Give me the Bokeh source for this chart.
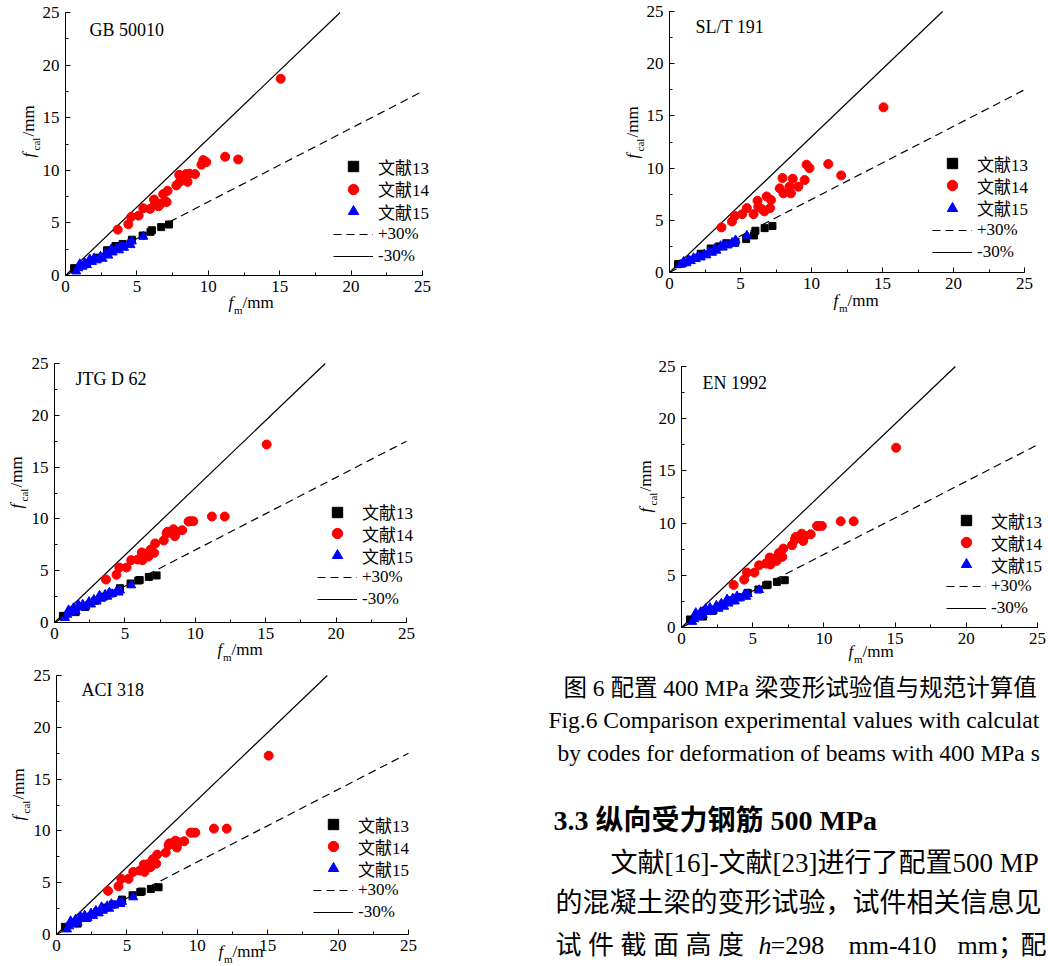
import math
from bokeh.plotting import figure
from bokeh.layouts import row, column
from bokeh.models import Legend, LegendItem, Label, SingleIntervalTicker, Range1d
from bokeh.embed import file_html
from bokeh.resources import INLINE

# ------------------------------------------------------------------ data
codes = ["GB 50010", "SL/T 191", "JTG D 62", "EN 1992", "ACI 318"]
series_names = ["文献13", "文献14", "文献15"]
band_names = ["+30%", "-30%"]
band_factors = [0.7, 1.3]
axis_range = [0, 25]
tick_step = 5

# measured deflections f_m (mm), same specimens in every panel
x13 = [0.6, 1.5, 2.2, 2.9, 3.5, 4.0, 4.65, 5.4, 5.95, 6.05, 6.7, 7.25]
x14 = [3.66, 4.4, 4.6, 5.12, 5.45, 5.92, 6.2, 6.25, 6.52, 6.68, 6.84, 7.08, 7.15,
       7.76, 7.96, 8.02, 8.45, 8.55, 8.68, 9.07, 9.52, 9.65, 9.86, 11.18, 12.09, 15.07]
x15 = [0.75, 0.9, 1.0, 1.2, 1.35, 1.5, 1.7, 1.85, 2.0, 2.2, 2.45, 2.6, 2.8, 3.0,
       3.2, 3.3, 3.6, 3.75, 3.9, 4.1, 4.4, 4.55, 4.65, 5.45]

# calculated deflections f_cal (mm) per code
gb_y13 = [0.7, 1.1, 1.7, 2.4, 2.8, 3.0, 3.4, 3.8, 4.15, 4.3, 4.6, 4.85]
gb_y14 = [4.36, 4.87, 5.57, 5.69, 6.39, 6.33, 7.22, 6.71, 6.58, 6.84, 7.73, 6.99, 8.05,
          8.56, 9.57, 8.94, 9.65, 8.9, 9.68, 9.64, 10.53, 10.97, 10.78, 11.29, 11.03, 18.7]
gb_y15 = [0.4, 0.7, 1.1, 0.85, 1.2, 1.0, 1.55, 1.3, 1.65, 1.45, 1.8, 1.6, 2.1, 1.9,
          2.5, 2.2, 2.6, 2.4, 2.8, 2.65, 3.0, 2.9, 3.25, 3.7]

sl_y13 = [0.8, 1.2, 1.8, 2.3, 2.5, 2.8, 2.95, 3.2, 3.55, 4.0, 4.25, 4.45]
sl_y14 = [4.32, 4.89, 5.43, 5.59, 6.17, 5.59, 6.87, 6.3, 6.07, 5.85, 7.29, 6.17, 6.94,
          8.06, 9.05, 7.58, 8.22, 7.58, 8.98, 8.22, 8.86, 10.33, 10.0, 10.39, 9.3, 15.82]
sl_y15 = [0.75, 0.8, 1.05, 0.9, 1.2, 1.1, 1.4, 1.3, 1.55, 1.45, 1.75, 1.65, 2.0, 1.9,
          2.3, 2.1, 2.55, 2.4, 2.7, 2.6, 2.85, 2.75, 3.1, 3.55]

jtg_y13 = [0.64, 1.0, 1.5, 2.1, 2.5, 2.8, 3.31, 3.76, 4.05, 4.1, 4.4, 4.54]
jtg_y14 = [4.15, 4.6, 5.31, 5.31, 6.02, 6.08, 6.76, 6.02, 6.63, 6.37, 7.05, 6.72, 7.63,
           7.92, 8.59, 8.75, 9.0, 8.33, 8.75, 8.91, 9.75, 9.78, 9.78, 10.23, 10.23, 17.18]
jtg_y15 = [0.45, 0.75, 1.2, 0.95, 1.4, 1.1, 1.7, 1.45, 1.75, 1.55, 2.0, 1.75, 2.2, 2.05,
           2.6, 2.3, 2.7, 2.5, 2.9, 2.75, 3.0, 2.9, 3.1, 3.6]

en_y13 = [0.77, 1.05, 1.6, 2.2, 2.6, 2.9, 3.32, 3.64, 4.05, 4.1, 4.37, 4.53]
en_y14 = [4.08, 4.59, 5.26, 5.26, 5.96, 6.12, 6.7, 6.03, 6.6, 6.38, 7.14, 6.76, 7.56,
          7.88, 8.42, 8.67, 8.99, 8.29, 8.77, 8.93, 9.73, 9.73, 9.73, 10.17, 10.17, 17.22]
en_y15 = [0.55, 0.8, 1.4, 1.0, 1.5, 1.2, 1.8, 1.5, 1.9, 1.6, 2.1, 1.8, 2.3, 2.0,
          2.7, 2.3, 2.8, 2.5, 3.0, 2.8, 3.1, 2.95, 3.2, 3.6]

aci_y13 = [0.74, 1.05, 1.6, 2.2, 2.6, 2.9, 3.37, 3.79, 4.1, 4.15, 4.4, 4.56]
aci_y14 = [4.21, 4.66, 5.37, 5.37, 6.04, 6.17, 6.75, 6.04, 6.8, 6.5, 7.26, 6.84, 7.71,
           7.9, 8.61, 8.8, 9.06, 8.39, 8.9, 9.0, 9.83, 9.83, 9.83, 10.22, 10.22, 17.26]
aci_y15 = [0.5, 0.8, 1.3, 1.0, 1.45, 1.15, 1.75, 1.5, 1.85, 1.6, 2.05, 1.8, 2.3, 2.05,
           2.65, 2.3, 2.75, 2.5, 2.95, 2.8, 3.05, 2.95, 3.15, 3.6]

panel_values = {
    "GB 50010": (gb_y13, gb_y14, gb_y15),
    "SL/T 191": (sl_y13, sl_y14, sl_y15),
    "JTG D 62": (jtg_y13, jtg_y14, jtg_y15),
    "EN 1992": (en_y13, en_y14, en_y15),
    "ACI 318": (aci_y13, aci_y14, aci_y15),
}

# ------------------------------------------------------------------ style / geometry (page pixels)
SERIF = "Liberation Serif"
MIX = "'Liberation Serif', 'Noto Sans CJK SC'"

# canvas = (left, top, width, height); box = axes box (left, top, right, bottom)
# legend = (left, centre of first row, row pitch)
geom = {
    "GB 50010": dict(canvas=(0, 0, 600, 330), box=(65, 12, 422, 275),
                     title=(89, 29), legend=(333, 166, 22.5), ylab=(28, 157), xlab=(228, 302)),
    "SL/T 191": dict(canvas=(600, 0, 446, 330), box=(669, 11, 1024, 272),
                     title=(695, 26), legend=(932, 163, 22.3), ylab=(632, 158), xlab=(833, 300)),
    "JTG D 62": dict(canvas=(0, 330, 600, 335), box=(54, 363, 406, 622),
                     title=(75, 378), legend=(317, 511.5, 21.9), ylab=(16, 508), xlab=(217, 649)),
    "EN 1992": dict(canvas=(600, 330, 446, 335), box=(681, 366, 1037, 627),
                    title=(702, 382), legend=(946, 520, 22.1), ylab=(645, 512), xlab=(848, 651)),
    "ACI 318": dict(canvas=(0, 665, 540, 300), box=(56, 675, 408, 934),
                    title=(81, 689), legend=(313, 824, 22), ylab=(18, 820), xlab=(218, 951)),
}
ROW_H = 26           # legend row box height (fits the CJK label text)


def screen_label(p, origin, px, py, text, size, font=SERIF, style="normal", angle=0.0,
                 align="left", baseline="middle"):
    """place a text at page pixel (px, py) inside figure p whose canvas is `origin`"""
    X0, Y0, W, H = origin
    p.add_layout(Label(x=px - X0, y=Y0 + H - py, x_units="screen", y_units="screen",
                       text=text, text_font=font, text_font_size=f"{size}px",
                       text_font_style=style, text_color="black", angle=angle,
                       text_align=align, text_baseline=baseline))


def legend_row(label, renderer, loc):
    return Legend(items=[LegendItem(label=label, renderers=[renderer])], location=loc,
                  padding=0, margin=0, spacing=0,
                  glyph_width=40, glyph_height=ROW_H, label_height=ROW_H, label_standoff=5,
                  label_text_font=MIX, label_text_font_size="17px",
                  label_text_color="black", border_line_alpha=0, background_fill_alpha=0)


def make_panel(code):
    g = geom[code]
    X0, Y0, W, H = g["canvas"]
    L, T, R, B = g["box"]
    span = axis_range[1] - axis_range[0]
    ppx = (R - L) / span
    ppy = (B - T) / span
    x_rng = Range1d(axis_range[0] - (L - X0) / ppx, axis_range[1] + (X0 + W - R) / ppx)
    y_rng = Range1d(axis_range[0] - (Y0 + H - B) / ppy, axis_range[1] + (T - Y0) / ppy)

    y13, y14, y15 = panel_values[code]
    p = figure(width=W, height=H, x_range=x_rng, y_range=y_rng,
               output_backend="svg", toolbar_location=None, min_border=0)
    p.outline_line_color = None
    p.grid.visible = False
    p.background_fill_color = "white"
    p.border_fill_color = "white"
    for ax in (p.xaxis[0], p.yaxis[0]):
        ax.fixed_location = 0
        ax.bounds = tuple(axis_range)
        ax.ticker = SingleIntervalTicker(interval=tick_step, num_minor_ticks=2)
        ax.major_tick_in = 5
        ax.major_tick_out = 0
        ax.minor_tick_in = 3
        ax.minor_tick_out = 0
        ax.axis_line_color = "black"
        ax.major_tick_line_color = "black"
        ax.minor_tick_line_color = "black"
        ax.major_label_text_font = SERIF
        ax.major_label_text_font_size = "17px"
        ax.major_label_text_color = "black"
    p.xaxis.major_label_standoff = 5
    p.yaxis.major_label_standoff = 6

    # +/-30 % reference lines, limited to the axes box
    lines = []
    for f in band_factors:
        xe = min(axis_range[1], axis_range[1] / f)
        lines.append(([axis_range[0], xe], [f * axis_range[0], f * xe]))
    r_plus = p.line(*lines[0], line_color="black", line_width=1.2, line_dash="8 5")
    r_minus = p.line(*lines[1], line_color="black", line_width=1.2)

    r13 = p.scatter(x13, y13, marker="square", size=7, color="black")
    r14 = p.scatter(x14, y14, marker="circle", size=9, color="#ff0000")
    r15 = p.scatter(x15, y15, marker="triangle", size=9, color="#0000ff")

    lx, first, pitch = g["legend"]
    entries = list(zip(series_names + band_names, [r13, r14, r15, r_plus, r_minus]))
    for i, (lab, rend) in enumerate(entries):
        bottom = first + i * pitch + ROW_H / 2
        p.add_layout(legend_row(lab, rend, (lx - X0, Y0 + H - bottom)))

    o = g["canvas"]
    # panel title
    tx, ty = g["title"]
    screen_label(p, o, tx, ty, code, 18)

    # x axis label  f_m/mm
    xf, yc = g["xlab"]
    screen_label(p, o, xf, yc, "f", 17, style="italic")
    screen_label(p, o, xf + 5.5, yc + 7, "m", 11)
    screen_label(p, o, xf + 14, yc, "/mm", 17)

    # y axis label  f_cal/mm (rotated)
    xc, yb = g["ylab"]
    a = math.pi / 2
    screen_label(p, o, xc, yb, "f", 17, style="italic", angle=a)
    screen_label(p, o, xc + 7, yb - 7, "cal", 11, angle=a)
    screen_label(p, o, xc, yb - 21, "/mm", 17, angle=a)
    return p


figs = {c: make_panel(c) for c in codes}

# ------------------------------------------------------------------ text block
tcanvas = (540, 665, 506, 300)
tp = figure(width=tcanvas[2], height=tcanvas[3],
            x_range=Range1d(0, tcanvas[2]), y_range=Range1d(0, tcanvas[3]),
            output_backend="svg", toolbar_location=None, min_border=0,
            x_axis_type=None, y_axis_type=None)
tp.grid.visible = False
tp.outline_line_color = None
tp.background_fill_color = "white"
tp.border_fill_color = "white"

screen_label(tp, tcanvas, 563, 687, "图 6  配置 400 MPa 梁变形试验值与规范计算值", 23.5, font=MIX)
screen_label(tp, tcanvas, 548, 719, "Fig.6 Comparison experimental values with calculat", 23.5, font=MIX)
screen_label(tp, tcanvas, 557, 752, "by codes for deformation of beams with 400 MPa s", 23.5, font=MIX)
screen_label(tp, tcanvas, 553, 820, "3.3  纵向受力钢筋 500 MPa", 28, font=MIX, style="bold")
screen_label(tp, tcanvas, 610, 862, "文献[16]-文献[23]进行了配置500 MP", 27, font=MIX)
screen_label(tp, tcanvas, 555, 902, "的混凝土梁的变形试验，试件相关信息见", 27, font=MIX)
screen_label(tp, tcanvas, 555, 945, "试 件 截 面 高 度", 26, font=MIX)
screen_label(tp, tcanvas, 758, 945, "h", 26, font=SERIF, style="italic")
screen_label(tp, tcanvas, 770, 945, "=298", 26, font=SERIF)
screen_label(tp, tcanvas, 848, 945, "mm-410", 26, font=SERIF)
screen_label(tp, tcanvas, 957, 945, "mm；", 26, font=MIX)
screen_label(tp, tcanvas, 1020, 945, "配", 26, font=MIX)

layout = column(
    row(figs["GB 50010"], figs["SL/T 191"]),
    row(figs["JTG D 62"], figs["EN 1992"]),
    row(figs["ACI 318"], tp),
)

open("out.html", "w").write(file_html(layout, INLINE))
